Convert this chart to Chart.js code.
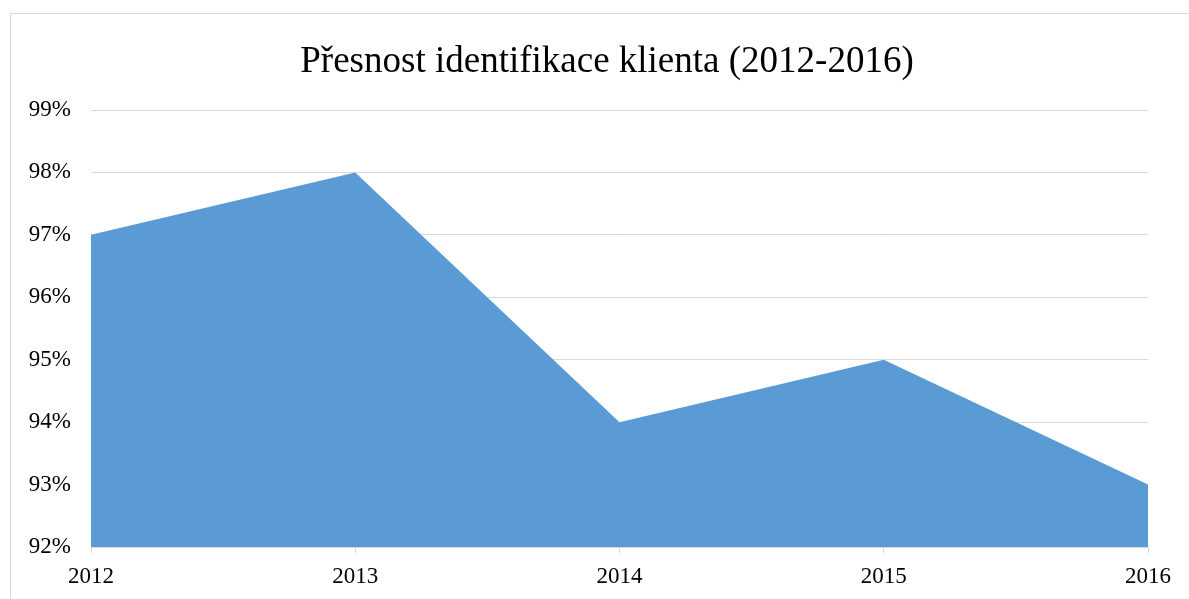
<!DOCTYPE html>
<html>
<head>
<meta charset="utf-8">
<script src="https://cdn.jsdelivr.net/npm/chart.js@4.4.1/dist/chart.umd.min.js"></script>
<style>
  html, body { margin: 0; padding: 0; background: #fff; overflow: hidden; }
  #frame { position: absolute; left: 10px; top: 13px; width: 1200px; height: 620px; border: 1px solid #d9d9d9; }
  #wrap { position: absolute; left: 0; top: 0; width: 1189px; height: 599px; }
  #title { position: absolute; left: 107px; width: 1000px; top: 38px; text-align: center;
           font: 37px 'Liberation Serif', 'Times New Roman', serif; line-height: 44px; color: #000; white-space: nowrap; }
</style>
</head>
<body>
<div id="frame"></div>
<div id="wrap"><canvas id="chart"></canvas></div>
<div id="title">Přesnost identifikace klienta (2012-2016)</div>
<script>
// Přesnost identifikace klienta – plošný graf
const years = ["2012", "2013", "2014", "2015", "2016"];
const presnost = [97, 98, 94, 95, 93];
const yMin = 92, yMax = 99, yStep = 1;

const FONT = "'Liberation Serif', 'Times New Roman', serif";
const GRID = "#d9d9d9";

new Chart("chart", {
  type: "line",
  data: {
    labels: years,
    datasets: [{
      data: presnost,
      fill: "origin",
      backgroundColor: "#5b9bd5",
      borderWidth: 0,
      pointRadius: 0,
      tension: 0,
    }],
  },
  options: {
    responsive: true,
    maintainAspectRatio: false,
    animation: false,
    // titulek je v HTML (střed rámečku, ne plochy grafu)
    layout: { padding: { left: 0, right: 41, top: 110, bottom: 0 } },
    plugins: {
      legend: { display: false },
      tooltip: { enabled: false },
      title: { display: false },
    },
    scales: {
      x: {
        offset: false,
        grid: { display: true, drawOnChartArea: false, drawTicks: true, tickLength: 6, color: GRID },
        border: { display: true, color: GRID },
        ticks: { color: "#000", font: { family: FONT, size: 23 }, padding: 10, maxRotation: 0 },
        afterFit: (s) => { s.height = 52; },
      },
      y: {
        min: yMin, max: yMax,
        grid: { color: GRID, drawTicks: false },
        border: { display: false },
        ticks: {
          stepSize: yStep, color: "#000", padding: 20,
          font: { family: FONT, size: 23 },
          callback: (v) => v + "%",
        },
        afterFit: (s) => { s.width = 91; },
      },
    },
  },
});
</script>
</body>
</html>
